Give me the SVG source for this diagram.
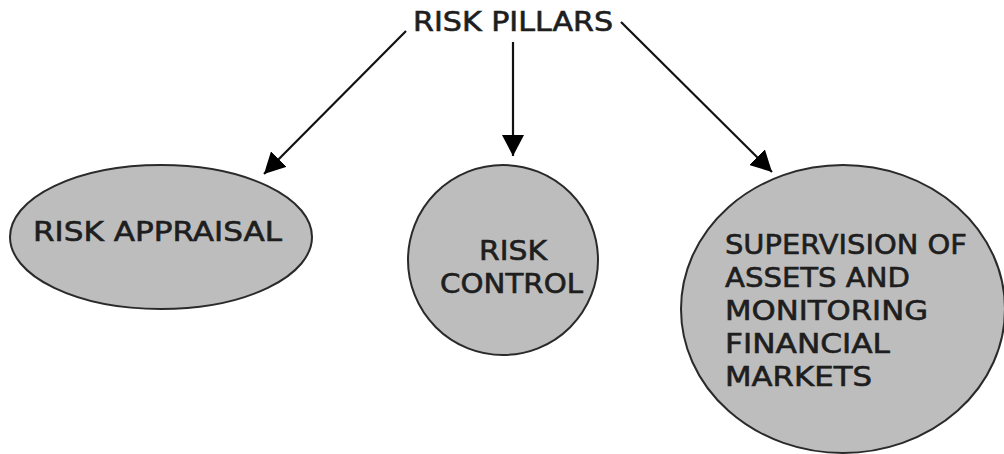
<svg xmlns="http://www.w3.org/2000/svg" width="1004" height="454" viewBox="0 0 1004 454">
<style>
.node{fill:#bdbdbd;stroke:#2a2a2a;stroke-width:2}
.lbl{font-family:"DejaVu Sans","Liberation Sans",sans-serif;font-size:26px;fill:#1e1e1e;stroke:#1e1e1e;stroke-width:0.6}
.conn{stroke:#111;stroke-width:2.2;fill:none;marker-end:url(#ah)}
</style>
<defs>
<marker id="ah" markerUnits="userSpaceOnUse" markerWidth="24" markerHeight="22" refX="21" refY="11" orient="auto">
<path d="M0,0 L21,11 L0,22 Z" fill="#000"/>
</marker>
</defs>
<rect width="1004" height="454" fill="#fff"/>
<g id="connectors">
<line class="conn" x1="406" y1="31" x2="264" y2="174"/>
<line class="conn" x1="513" y1="42" x2="513" y2="156"/>
<line class="conn" x1="621" y1="22" x2="772" y2="172"/>
</g>
<g id="risk-pillars">
<text class="lbl" x="413" y="31" textLength="200" lengthAdjust="spacingAndGlyphs">RISK PILLARS</text>
</g>
<g id="risk-appraisal">
<ellipse class="node" cx="161" cy="237" rx="151" ry="72"/>
<text class="lbl" x="33" y="241" textLength="249" lengthAdjust="spacingAndGlyphs">RISK APPRAISAL</text>
</g>
<g id="risk-control">
<circle class="node" cx="503" cy="260" r="95"/>
<text class="lbl" x="479" y="260" textLength="68" lengthAdjust="spacingAndGlyphs">RISK</text>
<text class="lbl" x="440" y="293" textLength="143" lengthAdjust="spacingAndGlyphs">CONTROL</text>
</g>
<g id="supervision">
<ellipse class="node" cx="843" cy="309" rx="162" ry="144"/>
<text class="lbl" x="725" y="254" textLength="242" lengthAdjust="spacingAndGlyphs">SUPERVISION OF</text>
<text class="lbl" x="725" y="287" textLength="185" lengthAdjust="spacingAndGlyphs">ASSETS AND</text>
<text class="lbl" x="725" y="320" textLength="203" lengthAdjust="spacingAndGlyphs">MONITORING</text>
<text class="lbl" x="725" y="353" textLength="165" lengthAdjust="spacingAndGlyphs">FINANCIAL</text>
<text class="lbl" x="725" y="386" textLength="147" lengthAdjust="spacingAndGlyphs">MARKETS</text>
</g>
</svg>
